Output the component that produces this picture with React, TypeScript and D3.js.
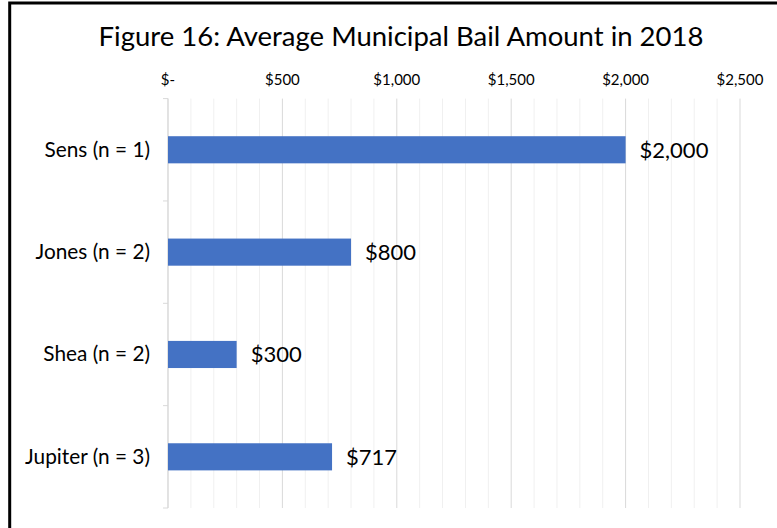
import React from "react";
import * as d3 from "d3";

const categories = ["Sens (n = 1)", "Jones (n = 2)", "Shea (n = 2)", "Jupiter (n = 3)"];
const values = [2000, 800, 300, 717];
const valueLabels = ["$2,000", "$800", "$300", "$717"];
const majorTicks = [0, 500, 1000, 1500, 2000, 2500];
const tickLabels = ["$-", "$500", "$1,000", "$1,500", "$2,000", "$2,500"];
const minorTicks = d3.range(0, 2501, 100);
const title = "Figure 16: Average Municipal Bail Amount in 2018";

const W = 777, H = 528;
const FONT = "Lato, 'Open Sans', sans-serif";

export default function App() {
  const x = d3.scaleLinear().domain([0, 2500]).range([168, 740]);
  const y = d3.scaleBand().domain(categories).range([98.6, 508]).paddingInner(0.735).paddingOuter(0.3675);
  const top = 98.6, bottom = 508;
  const bounds = d3.range(categories.length + 1).map(i => top + i * ((bottom - top) / categories.length));
  return (
    <svg width={W} height={H} style={{ position: "absolute", left: 0, top: 0, background: "#fff" }}>
      <rect x={0} y={0} width={W} height={H} fill="#fff" />
      <path d={`M9.7,${H} V3 H${W}`} fill="none" stroke="#000" strokeWidth={3} />
      <text x={401} y={46} textAnchor="middle" fontFamily={FONT} fontSize={27.5} fill="#000">{title}</text>
      {minorTicks.map(t => (
        <line key={"m" + t} x1={x(t)} x2={x(t)} y1={top} y2={bottom}
          stroke={t % 500 === 0 ? "#d9d9d9" : "#f0f0f0"} strokeWidth={1} />
      ))}
      {majorTicks.map((t, i) => (
        <text key={"t" + t} x={x(t)} y={85} textAnchor="middle" fontFamily={FONT} fontSize={15} fill="#000">{tickLabels[i]}</text>
      ))}
      <line x1={x(0)} x2={x(0)} y1={top} y2={bottom} stroke="#d9d9d9" />
      {bounds.map((b, i) => (
        <line key={"b" + i} x1={x(0) - 5} x2={x(0)} y1={b} y2={b} stroke="#d9d9d9" />
      ))}
      {categories.map((c, i) => {
        const by = y(c)!;
        const cy = by + y.bandwidth() / 2;
        return (
          <g key={c}>
            <rect x={x(0)} y={by} width={x(values[i]) - x(0)} height={y.bandwidth()} fill="#4472C4" />
            <text x={150} y={cy + 7} textAnchor="end" fontFamily={FONT} fontSize={20.8} fill="#000">{c}</text>
            <text x={x(values[i]) + 14} y={cy + 8} fontFamily={FONT} fontSize={22} fill="#000">{valueLabels[i]}</text>
          </g>
        );
      })}
    </svg>
  );
}
